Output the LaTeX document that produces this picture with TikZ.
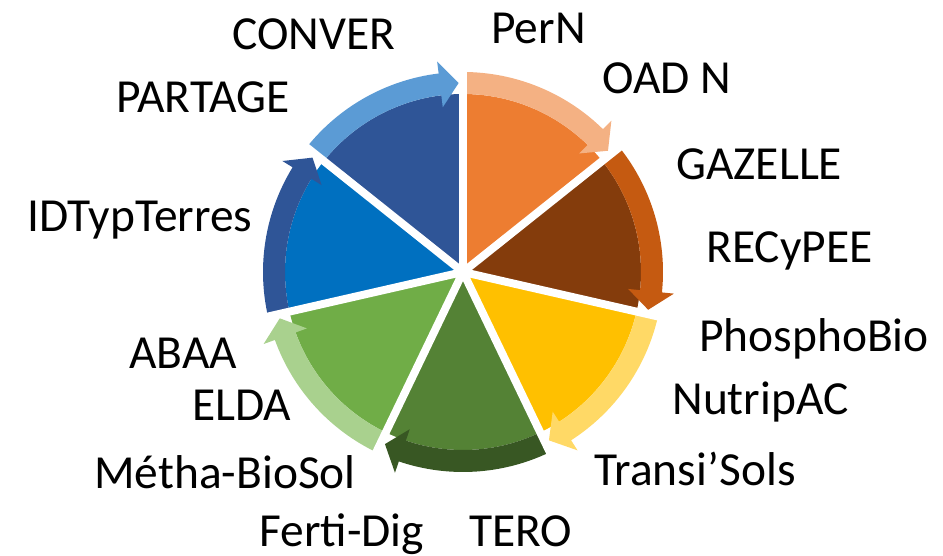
\documentclass[tikz,border=0pt]{standalone}
\usepackage{fontspec}
\setmainfont{Carlito}
\definecolor{fDarkBlue}{HTML}{2F5597}
\definecolor{fLightBlue}{HTML}{5B9BD5}
\definecolor{fOrange}{HTML}{ED7D31}
\definecolor{fLightOrange}{HTML}{F4B183}
\definecolor{fBrown}{HTML}{843C0C}
\definecolor{fRust}{HTML}{C55A11}
\definecolor{fGold}{HTML}{FFC000}
\definecolor{fLightGold}{HTML}{FFD966}
\definecolor{fGreen}{HTML}{548235}
\definecolor{fDarkGreen}{HTML}{385723}
\definecolor{fLeaf}{HTML}{70AD47}
\definecolor{fLightLeaf}{HTML}{A9D18E}
\definecolor{fBlue}{HTML}{0070C0}
\begin{document}
\begin{tikzpicture}[lbl/.style={anchor=base west, inner sep=0pt, font=\fontsize{27}{32}\selectfont}]
\useasboundingbox (-9.26,-5.68) rectangle (9.6,5.44);
% sectors with their curved arrows (clockwise)
\foreach \a/\fc/\bc in {141.43/fDarkBlue/fLightBlue, 90/fOrange/fLightOrange,
    38.57/fBrown/fRust, -12.86/fGold/fLightGold, -64.29/fGreen/fDarkGreen,
    -115.71/fLeaf/fLightLeaf, -167.14/fBlue/fDarkBlue}
{
    \fill[\fc] (0,0)--(\a:3.56) arc[start angle=\a, end angle=\a-51.43, radius=3.56]--cycle;
    \fill[\bc] (\a:3.56)--(\a:4) arc[start angle=\a, end angle=\a-44.43, radius=4]
        --(\a-44.43:4.24)--(\a-50.1:3.78)--(\a-44.43:3.32)--(\a-44.43:3.56)
        arc[start angle=\a-44.43, end angle=\a, radius=3.56]--cycle;
}
% white gaps
\foreach \a in {141.43,90,38.57,-12.86,-64.29,-115.71,-167.14}
{
    \draw[white, line width=4.5pt] (0,0)--(\a:4.5);
}
\node (conver) at (-4.62,4.44)[lbl]{CONVER};
\node (pern) at (0.56,4.56)[lbl]{PerN};
\node (oadn) at (2.78,3.56)[lbl]{OAD N};
\node (partage) at (-6.94,3.18)[lbl]{PARTAGE};
\node (gazelle) at (4.26,1.84)[lbl]{GAZELLE};
\node (idtyp) at (-8.72,0.80)[lbl]{IDTypTerres};
\node (recypee) at (4.86,0.18)[lbl]{RECyPEE};
\node (phospho) at (4.72,-1.58)[lbl]{PhosphoBio};
\node (abaa) at (-6.68,-1.92)[lbl]{ABAA};
\node (nutrip) at (4.18,-2.84)[lbl]{NutripAC};
\node (elda) at (-5.42,-2.96)[lbl]{ELDA};
\node (metha) at (-7.38,-4.32)[lbl]{Métha-BioSol};
\node (transi) at (2.62,-4.26)[lbl]{Transi’Sols};
\node (ferti) at (-4.08,-5.48)[lbl]{Ferti-Dig};
\node (tero) at (0.12,-5.48)[lbl]{TERO};
\end{tikzpicture}
\end{document}
